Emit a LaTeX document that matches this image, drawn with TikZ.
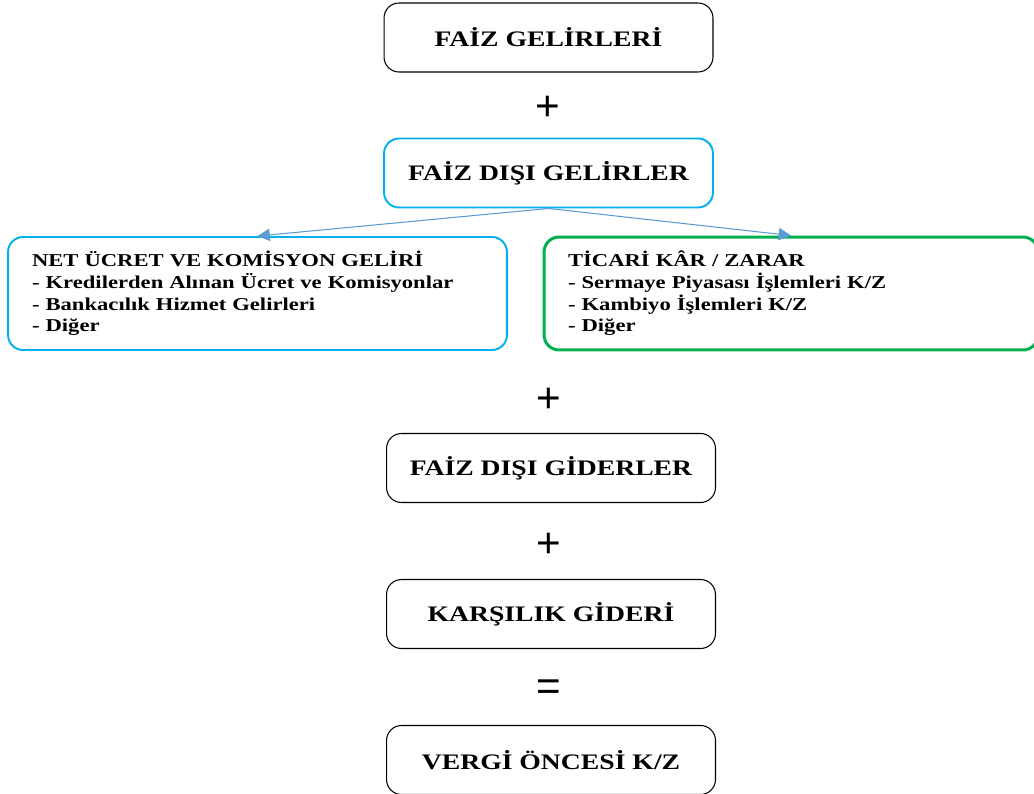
\documentclass[tikz,border=0pt]{standalone}
\usepackage{fontspec}
\setmainfont{Liberation Serif}[FakeStretch=1.25]
\newfontfamily\isaretfont{Liberation Sans}
\usetikzlibrary{arrows.meta}

\definecolor{kutumavi}{HTML}{00B0F0}
\definecolor{kutuyesil}{HTML}{00B050}
\definecolor{okmavi}{HTML}{5B9BD5}

\tikzset{
    baslik/.style={draw, rounded corners=0.3cm, line width=0.6pt,
        minimum width=6.58cm, minimum height=1.38cm,
        font=\bfseries\fontsize{12.6}{14}\selectfont},
    liste/.style={draw, rounded corners=0.3cm, align=left,
        text width=9.02cm, inner xsep=0.48cm,
        minimum width=9.98cm, minimum height=2.26cm,
        font=\bfseries\fontsize{10.3}{12.3}\selectfont},
    isaret/.style={font=\isaretfont\fontsize{24}{28}\selectfont},
    ok/.style={draw=okmavi, line width=0.6pt,
        -{Triangle[length=7pt,width=7pt]}, okmavi}
}

\begin{document}
\begin{tikzpicture}[x=0.02cm, y=-0.02cm]
    \useasboundingbox (0,0) rectangle (1034,794);

    \node[baslik] (faiz) at (548.5,37.5) {FAİZ GELİRLERİ};
    \node[isaret] (arti1) at (548,108) {+};
    \node[baslik, draw=kutumavi, line width=1.1pt] (disi) at (548.5,173) {FAİZ DIŞI GELİRLER};

    \node[liste, draw=kutumavi, line width=1.1pt] (ucret) at (257.5,293.5)
        {NET ÜCRET VE KOMİSYON GELİRİ\\
         - Kredilerden Alınan Ücret ve Komisyonlar\\
         - Bankacılık Hizmet Gelirleri\\
         - Diğer};
    \node[liste, draw=kutuyesil, line width=1.7pt, minimum width=9.88cm,
        text width=8.92cm] (ticari) at (791,293.5)
        {TİCARİ KÂR / ZARAR\\
         - Sermaye Piyasası İşlemleri K/Z\\
         - Kambiyo İşlemleri K/Z\\
         - Diğer};

    \draw[ok] (disi.south) -- (ucret.north);
    \draw[ok] (disi.south) -- (ticari.north);

    \node[isaret] (arti2) at (549,400) {+};
    \node[baslik] (gider) at (551,468) {FAİZ DIŞI GİDERLER};
    \node[isaret] (arti3) at (549,545) {+};
    \node[baslik] (karsilik) at (551,614) {KARŞILIK GİDERİ};
    \node[isaret] (esit) at (549,690) {=};
    \node[baslik] (vergi) at (551,760) {VERGİ ÖNCESİ K/Z};
\end{tikzpicture}
\end{document}
